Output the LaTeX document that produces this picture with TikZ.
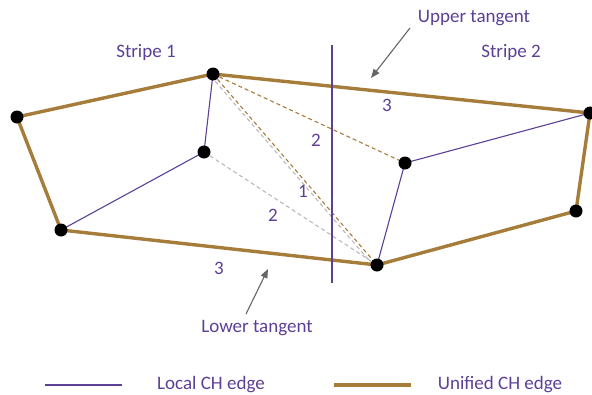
\documentclass[tikz,border=0pt]{standalone}
\usepackage{fontspec}
\setmainfont{Carlito}
\usepackage{tikz}
\usetikzlibrary{arrows.meta,backgrounds}
\definecolor{purp}{RGB}{92,64,150}
\definecolor{brn}{RGB}{166,124,58}
\tikzset{
  pt/.style={circle,fill=black,inner sep=0pt,minimum size=13pt},
  loc/.style={draw=purp,line width=1.1pt},
  uni/.style={draw=brn,line width=3.4pt,line cap=round},
  tgb/.style={draw=brn,line width=1.1pt,dash pattern=on 4pt off 3pt},
  tgg/.style={draw=gray!55,line width=1.1pt,dash pattern=on 4pt off 3pt},
  lbl/.style={text=purp,font=\fontsize{19}{22}\selectfont,inner sep=0pt},
  ar/.style={draw=gray!80!black,line width=1.1pt,-{Triangle[length=9pt,width=7pt]}},
}
\begin{document}
\begin{tikzpicture}[x=1pt,y=-1pt]
\useasboundingbox (0,0) rectangle (592,394);
% stripe 1
\node[pt] (a) at (17,117) {};
\node[pt] (b) at (213,74) {};
\node[pt] (c) at (204,152) {};
\node[pt] (d) at (61,230) {};
% stripe 2
\node[pt] (e) at (377,265) {};
\node[pt] (f) at (405,163) {};
\node[pt] (g) at (590,113) {};
\node[pt] (h) at (576,211) {};
% divider
\coordinate (vt) at (332,45);
\coordinate (vb) at (332,283);
\begin{scope}[on background layer]
\draw[tgg] ([shift={(-2.3,2)}]b.center) -- ([shift={(-2.3,2)}]e.center);
\draw[tgg] (c.center) -- (e.center);
\draw[tgb] (b.center) -- (e.center);
\draw[tgb] (b.center) -- (f.center);
\draw[loc] (b.center) -- (c.center) -- (d.center);
\draw[loc] (e.center) -- (f.center) -- (g.center);
\draw[uni] (b.center) -- (a.center) -- (d.center) -- (e.center) -- (h.center) -- (g.center) -- cycle;
\draw[draw=purp,line width=1.4pt] (vt) -- (vb);
\end{scope}
% labels
\node[lbl] (s1) at (146,52) {Stripe 1};
\node[lbl] (s2) at (511,52) {Stripe 2};
\node[lbl] (ut) at (474,18) {Upper tangent};
\node[lbl] (lt) at (257,328) {Lower tangent};
\node[lbl] at (387,105) {3};
\node[lbl] at (316,140) {2};
\node[lbl] at (303,191) {1};
\node[lbl] at (273,215) {2};
\node[lbl] at (219,268) {3};
% arrows
\coordinate (ua) at (410,28);
\coordinate (ub) at (371,78);
\coordinate (la) at (246,314);
\coordinate (lb) at (268,269);
\draw[ar] (ua) -- (ub);
\draw[ar] (la) -- (lb);
% legend
\coordinate (l1) at (45,385);
\coordinate (l2) at (122,385);
\coordinate (l3) at (334,385);
\coordinate (l4) at (411,385);
\draw[loc] (l1) -- (l2);
\draw[draw=brn,line width=3.4pt] (l3) -- (l4);
\node[lbl] (ll) at (211,385) {Local CH edge};
\node[lbl] (lu) at (500,385) {Unified CH edge};
\end{tikzpicture}
\end{document}
